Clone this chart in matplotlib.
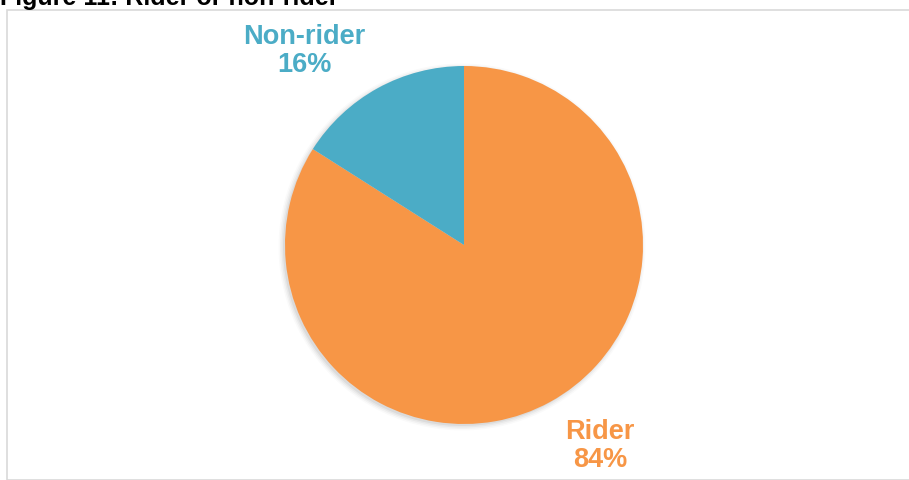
import matplotlib.pyplot as plt
from matplotlib.patches import Rectangle

labels = ['Rider', 'Non-rider']
shares = [84, 16]
colors = ['#F79646', '#4BACC6']

W, H = 909, 481

fig = plt.figure(figsize=(W / 100, H / 100), dpi=100)
ax = fig.add_axes([0, 0, 1, 1])

# chart frame
fig.patches.append(Rectangle((7.5 / W, 0), 1.2, (H - 10.5) / H, transform=fig.transFigure,
                             fill=False, edgecolor='#D9D9D9', linewidth=1.2))

# soft shadow under the pie
for i, a in enumerate([0.05, 0.04, 0.03, 0.02]):
    ax.add_patch(plt.Circle((462, H - 248), 179 + i * 1.5, color='#000000', alpha=a, lw=0))

ax.pie(shares, colors=colors, startangle=90, counterclock=False,
       center=(464, H - 246), radius=179, wedgeprops=dict(linewidth=0))

ax.set_xlim(0, W)
ax.set_ylim(0, H)
ax.set_aspect('auto')
ax.axis('off')

font = ['Liberation Sans', 'DejaVu Sans']
label_pos = {'Rider': (600, 446), 'Non-rider': (304, 51)}
for name, val, col in zip(labels, shares, colors):
    x, y = label_pos[name]
    ax.text(x, H - y, f'{name}\n{val}%', ha='center', va='center', color=col,
            fontsize=19.5, fontweight='bold', family=font, linespacing=1.1)

fig.text(0, 1 - 5 / H, 'Figure 11: Rider or non-rider', ha='left', va='baseline',
         fontsize=18, fontweight='bold', family=font, color='black')

fig.savefig('out.png', dpi=100)
